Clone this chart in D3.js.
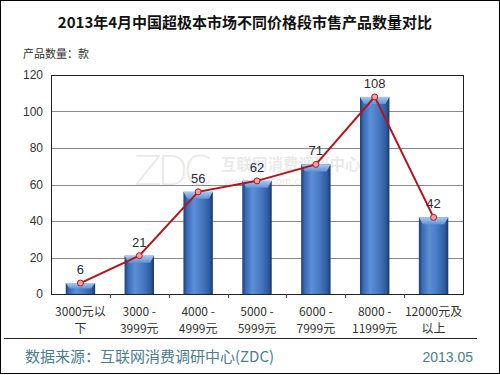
<!DOCTYPE html>
<html><head><meta charset="utf-8">
<script src="https://cdn.jsdelivr.net/npm/d3@7"></script>
<style>body{margin:0;background:#fff}svg{display:block}</style>
</head><body>
<script>
const categories = [["3000元以","下"],["3000 -","3999元"],["4000 -","4999元"],["5000 -","5999元"],["6000 -","7999元"],["8000 -","11999元"],["12000元及","以上"]];
const values = [6,21,56,62,71,108,42];
const yTicks = [0,20,40,60,80,100,120];
const title = "2013年4月中国超极本市场不同价格段市售产品数量对比";
const unitLabel = "产品数量：款";
const source = "数据来源：互联网消费调研中心(ZDC)";
const dateLabel = "2013.05";

const W=500,H=375;
const svg=d3.select("body").append("svg").attr("width",W).attr("height",H);
const FONT="'Liberation Sans','Noto Sans CJK SC',sans-serif";
const CJK="'Noto Sans CJK SC',sans-serif";

const defs=svg.append("defs");
const g1=defs.append("linearGradient").attr("id","barG").attr("x1","0").attr("x2","1").attr("y1","0").attr("y2","0");
[[0,"#1d3f78"],[0.12,"#3a6bb5"],[0.35,"#5b8fd6"],[0.6,"#4a7cc6"],[0.88,"#2f5c9f"],[1,"#1a3768"]].forEach(([o,c])=>g1.append("stop").attr("offset",o).attr("stop-color",c));
const g2=defs.append("linearGradient").attr("id","topG").attr("x1","0").attr("x2","0").attr("y1","0").attr("y2","1");
[[0,"#a9c9f0"],[1,"#5f93d8"]].forEach(([o,c])=>g2.append("stop").attr("offset",o).attr("stop-color",c));

svg.append("rect").attr("x",0.5).attr("y",0.5).attr("width",W-1).attr("height",H-2).attr("fill","#fff").attr("stroke","#000");

svg.append("text").attr("x",245).attr("y",28).attr("text-anchor","middle").attr("font-family",CJK).attr("font-weight","bold").attr("font-size",15).attr("fill","#111").text(title);
svg.append("text").attr("x",23).attr("y",58).attr("font-family",CJK).attr("font-size",11).attr("fill","#333").text(unitLabel);

const L=51,R=463,T=75,B=294;
const x=d3.scaleBand().domain(d3.range(categories.length)).range([L,R]).paddingInner(0.5).paddingOuter(0.25);
const y=d3.scaleLinear().domain([0,120]).range([B,T]);

// watermark
const wm=svg.append("g").attr("opacity",0.12).attr("fill","#555");
wm.append("text").attr("x",134).attr("y",185).attr("font-family","'DejaVu Sans',sans-serif").attr("font-weight","200").attr("font-size",41).attr("textLength",78).text("ZDC");
wm.append("text").attr("x",221).attr("y",170).attr("font-family",CJK).attr("font-weight","bold").attr("font-size",15.5).text("互联网消费调研中心");
wm.append("text").attr("x",224).attr("y",185).attr("font-family",FONT).attr("font-size",11).text("www.zdc.com.cn");

// gridlines
svg.append("g").selectAll("line").data(yTicks.filter(t=>t>0&&t<120)).join("line")
  .attr("x1",L).attr("x2",R).attr("y1",d=>Math.round(y(d))+0.5).attr("y2",d=>Math.round(y(d))+0.5).attr("stroke","#8a8a8a");
// plot border
svg.append("rect").attr("x",L+0.5).attr("y",T+0.5).attr("width",R-L).attr("height",B-T).attr("fill","none").attr("stroke","#222");

// y labels
svg.append("g").selectAll("text").data(yTicks).join("text")
  .attr("x",43).attr("y",d=>y(d)+4).attr("text-anchor","end").attr("font-family",FONT).attr("font-size",12).attr("fill","#333").text(d=>d);

// x ticks
const bw=(R-L)/categories.length;
svg.append("g").selectAll("line").data(d3.range(1,categories.length)).join("line")
  .attr("x1",d=>Math.round(L+bw*d)+0.5).attr("x2",d=>Math.round(L+bw*d)+0.5).attr("y1",B).attr("y2",B+4).attr("stroke","#444");

// bars
const bars=svg.append("g").selectAll("g").data(values).join("g");
bars.append("rect").attr("x",(d,i)=>x(i)).attr("y",d=>y(d)).attr("width",x.bandwidth()).attr("height",d=>B-y(d)).attr("fill","url(#barG)");
bars.append("path").attr("d",(d,i)=>{const x0=x(i),x1=x0+x.bandwidth(),t=y(d),h=Math.min(7,(B-t)*0.5);return `M${x0},${t}L${x1},${t}L${x1-4},${t+h}L${x0+4},${t+h}Z`;}).attr("fill","url(#topG)");

// line
const cx=i=>x(i)+x.bandwidth()/2;
svg.append("path").datum(values).attr("d",d3.line().x((d,i)=>cx(i)).y(d=>y(d))).attr("fill","none").attr("stroke","#b3141c").attr("stroke-width",2);
svg.append("g").selectAll("circle").data(values).join("circle").attr("cx",(d,i)=>cx(i)).attr("cy",d=>y(d)).attr("r",3).attr("fill","#e9a3a3").attr("stroke","#b3141c").attr("stroke-width",1);
svg.append("g").selectAll("text").data(values).join("text").attr("x",(d,i)=>cx(i)).attr("y",d=>y(d)-9).attr("text-anchor","middle").attr("font-family",FONT).attr("font-size",13).attr("fill","#2a2a3a").text(d=>d);

// x labels
const xl=svg.append("g").selectAll("text").data(categories).join("text").attr("text-anchor","middle").attr("font-family",CJK).attr("font-size",12).attr("fill","#333");
xl.append("tspan").attr("x",(d,i)=>cx(i)).attr("y",316).text(d=>d[0]);
xl.append("tspan").attr("x",(d,i)=>cx(i)).attr("y",333).text(d=>d[1]);

// footer
svg.append("line").attr("x1",4).attr("x2",477).attr("y1",338.5).attr("y2",338.5).attr("stroke","#222");
svg.append("text").attr("x",25).attr("y",362).attr("font-family",CJK).attr("font-size",15).attr("fill","#4b7d8c").text(source);
svg.append("text").attr("x",473).attr("y",362).attr("text-anchor","end").attr("font-family",FONT).attr("font-size",14).attr("fill","#4b7d8c").text(dateLabel);
</script>
</body></html>
